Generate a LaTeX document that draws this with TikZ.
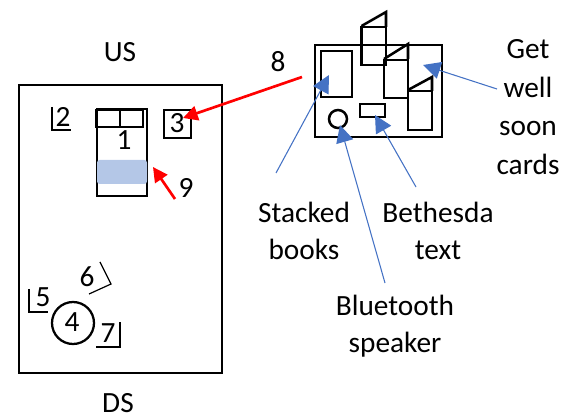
\documentclass[tikz,border=0pt]{standalone}
\usepackage{fontspec}
\setmainfont{Carlito}
\usetikzlibrary{arrows.meta}
\definecolor{arrowblue}{HTML}{4472C4}
\definecolor{fillblue}{HTML}{B4C7E7}
\definecolor{arrowred}{HTML}{FF0000}
\tikzset{
  lbl/.style={inner sep=0pt,font=\fontsize{22}{27.75}\selectfont,text=black,align=center},
  lblb/.style={inner sep=0pt,font=\fontsize{22}{28.9}\selectfont,text=black,align=center},
  num/.style={inner sep=0pt,font=\fontsize{22}{26}\selectfont,text=black},
  box/.style={draw=black,line width=1.9pt,fill=none},
  thin box/.style={draw=black,line width=1.3pt},
  mark line/.style={draw=black,line width=0.9pt},
  blue arrow/.style={draw=arrowblue,line width=0.8pt,-{Triangle[length=13pt,width=13pt]}},
  red arrow/.style={draw=arrowred,line width=2pt,-{Triangle[length=11pt,width=11pt]}}
}
\begin{document}
\begin{tikzpicture}[x=0.75pt,y=-0.75pt]
\useasboundingbox (0,0) rectangle (574,416);
% stage
\draw[box] (19,85) rectangle (222,373);
\node[lbl,anchor=base] (us) at (120,62) {US};
\node[lbl,anchor=base] (ds) at (118,412) {DS};
% bed
\draw[thin box] (97,109) rectangle (147,196);
\fill[fillblue,rounded corners=2pt] (97,160) rectangle (147,184);
\draw[box] (96,110) rectangle (120,127);
\draw[box] (120,110) rectangle (143,127);
\node[num] (one) at (124,140) {1};
% nightstand
\draw[box] (164,110) rectangle (191,138);
\node[num] (three) at (177,123) {3};
% marks
\draw[mark line] (52,107) -- (52,130) -- (71,130);
\node[num] (two) at (63,117) {2};
\draw[line width=1.7pt] (73,323) circle (21);
\node[num] (four) at (72,322) {4};
\draw[mark line] (29,289) -- (29,312) -- (48,312);
\node[num] (five) at (43,297) {5};
\draw[mark line] (100,262) -- (111,284) -- (89,294);
\node[num] (six) at (87,277) {6};
\draw[mark line] (96,347) -- (120,347) -- (120,322);
\node[num] (seven) at (108,333) {7};
% table
\draw[box] (315,45) rectangle (442,137);
\draw[box] (321,51) rectangle (352,97);
\draw[box] (338,119) circle (9);
\draw[box] (360,104) rectangle (385,117);
% cards
\draw[box] (361.5,27) rectangle (386,65);
\draw[box] (361.5,26) -- (386,12) -- (386,27);
\draw[box] (384,60) rectangle (408,98);
\draw[box] (384,59) -- (408,44) -- (408,59);
\draw[box] (408,91) rectangle (432,130);
\draw[box] (408,90) -- (432,77) -- (432,91);
% labels
\node[num] (eight) at (278,62) {8};
\node[num] (nine) at (186,188) {9};
\node[lbl] (books) at (304,231) {Stacked\\books};
\node[lbl] (bethesda) at (438,231) {Bethesda\\text};
\node[lbl] (bluetooth) at (395,326) {Bluetooth\\speaker};
\node[lblb] (cards) at (528,107) {Get\\well\\soon\\cards};
% connector ends
\coordinate (a1) at (302,77);
\coordinate (a2) at (183,118);
\coordinate (b1) at (175,199);
\coordinate (b2) at (153,167);
\coordinate (c1) at (276,173);
\coordinate (c2) at (329,75);
\coordinate (d1) at (416,187);
\coordinate (d2) at (375,115);
\coordinate (e1) at (385,283);
\coordinate (e2) at (340,125);
\coordinate (f1) at (497,89);
\coordinate (f2) at (423,65);
\draw[red arrow] (a1) -- (a2);
\draw[red arrow] (b1) -- (b2);
\draw[blue arrow] (c1) -- (c2);
\draw[blue arrow] (d1) -- (d2);
\draw[blue arrow] (e1) -- (e2);
\draw[blue arrow] (f1) -- (f2);
\end{tikzpicture}
\end{document}
